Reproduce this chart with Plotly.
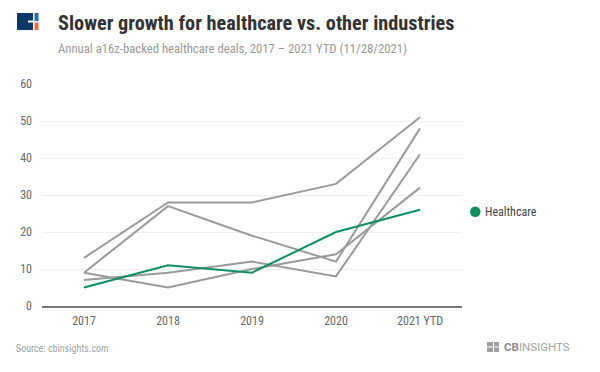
import plotly.graph_objects as go

years = ["2017", "2018", "2019", "2020", "2021 YTD"]
healthcare = [5, 11, 9, 20, 26]
other_a = [13, 28, 28, 33, 51]
other_b = [9, 27, 19, 12, 48]
other_c = [9, 5, 10, 14, 32]
other_d = [7, 9, 12, 8, 41]
y_ticks = [0, 10, 20, 30, 40, 50, 60]

GREEN = "#0e8f62"
GRAY = "#9a9a9a"
FONT = "Roboto Condensed, Liberation Sans Narrow, Roboto, sans-serif"

OFF = 8  # page body margin
W, H = 600 - OFF, 372 - OFF
# plot area in page (reference) pixels
L, R, T, B = 42, 462, 84, 306

def px(x):
    return (x - L) / (R - L)

def py(y):
    return (B - y) / (B - T)

fig = go.Figure()
for s in [other_a, other_b, other_c, other_d]:
    fig.add_trace(go.Scatter(x=years, y=s, mode="lines", line=dict(color=GRAY, width=2),
                             showlegend=False, hoverinfo="skip"))
fig.add_trace(go.Scatter(x=years, y=healthcare, mode="lines", line=dict(color=GREEN, width=2),
                         showlegend=False, name="Healthcare"))

fig.update_layout(
    width=W, height=H,
    margin=dict(l=L - OFF, r=600 - R, t=T - OFF, b=372 - B, pad=0),
    paper_bgcolor="white", plot_bgcolor="white",
    font=dict(family=FONT, size=12, color="#666"),
    showlegend=False,
    xaxis=dict(type="category", range=[-0.5, 4.5], showgrid=False, showline=True,
               linecolor="#777", linewidth=1.5, ticks="", tickfont=dict(size=12, color="#666"),
               ticklabelstandoff=3, fixedrange=True),
    yaxis=dict(range=[0, 60], tickvals=y_ticks, showgrid=True, gridcolor="#efefef", gridwidth=1,
               zeroline=False, showline=False, ticks="", tickfont=dict(size=12, color="#666"),
               ticklabelstandoff=9, fixedrange=True),
)

def ann(x, y, text, size, color, anchor="left", family=FONT):
    fig.add_annotation(x=px(x), y=py(y), xref="paper", yref="paper", xanchor=anchor,
                       yanchor="middle", text=text, showarrow=False,
                       font=dict(family=family, size=size, color=color))

ann(56, 23, "<b>Slower growth for healthcare vs. other industries</b>", 20.3, "#333")
ann(56, 48, "Annual a16z-backed healthcare deals, 2017 \u2013 2021 YTD (11/28/2021)", 12.7, "#999")
ann(14, 348, "Source: cbinsights.com", 10, "#a0a0a0")
ann(483, 212, "Healthcare", 12, "#444")
ann(502, 347, "<b><span style='color:#8c8c8c'>CB</span></b>INSIGHTS", 11.5, "#a3a3a3",
    family="Roboto, sans-serif")

def rect(x0, y0, x1, y1, color):
    return dict(type="rect", xref="paper", yref="paper", x0=px(x0), x1=px(x1),
                y0=py(y1), y1=py(y0), fillcolor=color, line=dict(width=0))

shapes = [
    # top-left logo
    rect(17, 13, 33, 30, "#0d3868"),
    rect(28, 20.5, 33, 22.5, "white"),
    rect(34.5, 13, 38.5, 21, "#1f6fb0"),
    rect(34.5, 22.5, 38.5, 30, "#f26b3a"),
    # footer logo icon
    rect(487, 342, 499, 352, "#a0a0a0"),
    rect(487, 346.5, 499, 347.5, "white"),
    rect(493, 342, 494, 352, "white"),
    # legend marker
    dict(type="circle", xref="paper", yref="paper", x0=px(470), x1=px(480.5),
         y0=py(217), y1=py(206.5), fillcolor=GREEN, line=dict(width=0)),
]
fig.update_layout(shapes=shapes)

fig.write_html("out.html")
